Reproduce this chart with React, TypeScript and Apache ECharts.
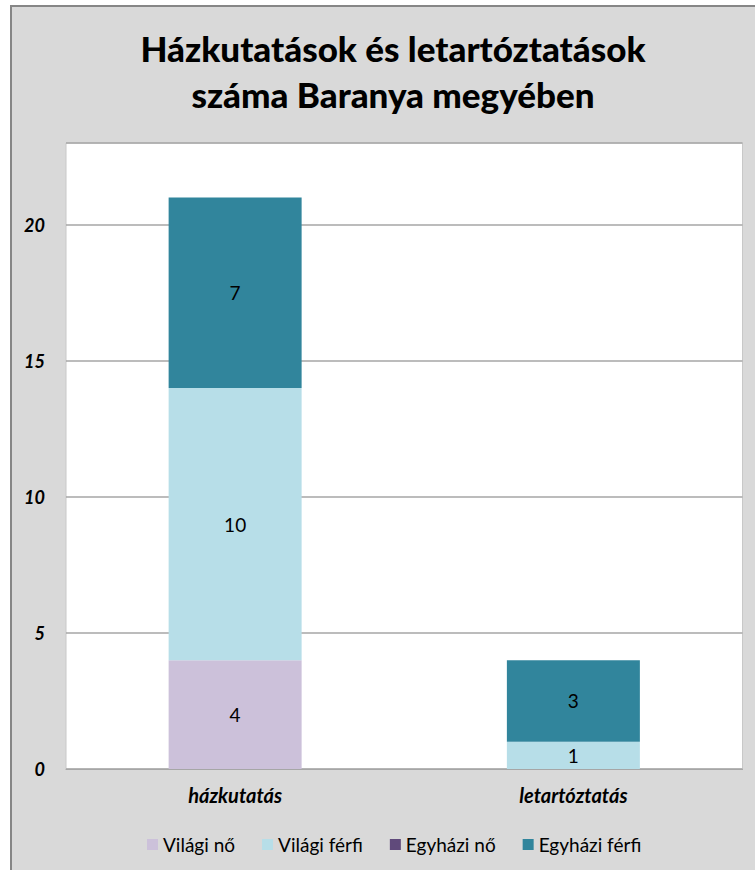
import React, { useEffect, useRef } from "react";
import * as echarts from "echarts";

const categories = ["házkutatás", "letartóztatás"];
const seriesNames = ["Világi nő", "Világi férfi", "Egyházi nő", "Egyházi férfi"];
const vilagiNo = [4, 0];
const vilagiFerfi = [10, 1];
const egyhaziNo = [0, 0];
const egyhaziFerfi = [7, 3];
const colors = ["#CCC1DA", "#B7DEE8", "#604A7B", "#31859C"];
const titleText = "Házkutatások és letartóztatások\nszáma Baranya megyében";

const FONT = "Lato, 'Liberation Sans', sans-serif";

export default function App() {
  const ref = useRef<HTMLDivElement>(null);
  useEffect(() => {
    if (!ref.current) return;
    const chart = echarts.init(ref.current, undefined, { renderer: "svg" });
    const values = [vilagiNo, vilagiFerfi, egyhaziNo, egyhaziFerfi];
    chart.setOption({
      animation: false,
      textStyle: { fontFamily: FONT },
      graphic: [
        {
          type: "rect",
          z: -100,
          silent: true,
          shape: { x: 11, y: 6, width: 780, height: 900 },
          style: { fill: "#D9D9D9", stroke: "#868686", lineWidth: 2 },
        },
      ],
      title: {
        text: titleText,
        left: 388,
        textAlign: "center",
        top: 20,
        textStyle: {
          fontFamily: FONT,
          fontSize: 35,
          fontWeight: 900,
          color: "#000",
          lineHeight: 46,
        },
      },
      legend: {
        data: seriesNames,
        left: 142,
        top: 830,
        itemWidth: 11,
        itemHeight: 11,
        itemGap: 27,
        icon: "rect",
        textStyle: { fontFamily: FONT, fontSize: 19, color: "#000" },
      },
      grid: {
        left: 66,
        right: 12.5,
        top: 143,
        bottom: 101,
        show: true,
        backgroundColor: "#FFFFFF",
        borderColor: "#C8C8C8",
        borderWidth: 1,
        containLabel: false,
      },
      xAxis: {
        type: "category",
        data: categories,
        axisLine: { show: true, lineStyle: { color: "#A6A6A6" } },
        axisTick: { show: false },
        axisLabel: {
          margin: 16,
          fontFamily: FONT,
          fontSize: 20,
          fontWeight: "bold",
          fontStyle: "italic",
          color: "#000",
        },
      },
      yAxis: {
        type: "value",
        min: 0,
        max: 23,
        interval: 5,
        axisLine: { show: false },
        axisTick: { show: false },
        splitLine: { lineStyle: { color: "#A6A6A6", width: 1.5 } },
        axisLabel: {
          margin: 21,
          fontFamily: FONT,
          fontSize: 18,
          fontWeight: "bold",
          fontStyle: "italic",
          color: "#000",
          showMaxLabel: false,
          formatter: (v: number) => (v % 5 === 0 ? String(v) : ""),
        },
      },
      series: seriesNames.map((name, i) => ({
        name,
        type: "bar",
        stack: "total",
        barWidth: 133,
        data: values[i],
        itemStyle: { color: colors[i] },
        label: {
          show: true,
          position: "inside",
          fontFamily: FONT,
          fontSize: 19,
          color: "#000",
          formatter: (p: any) => (p.value > 0 ? String(p.value) : ""),
        },
      })),
    });
    return () => chart.dispose();
  }, []);
  return (
    <div
      ref={ref}
      style={{ position: "absolute", left: 0, top: 0, width: 755, height: 870 }}
    />
  );
}
